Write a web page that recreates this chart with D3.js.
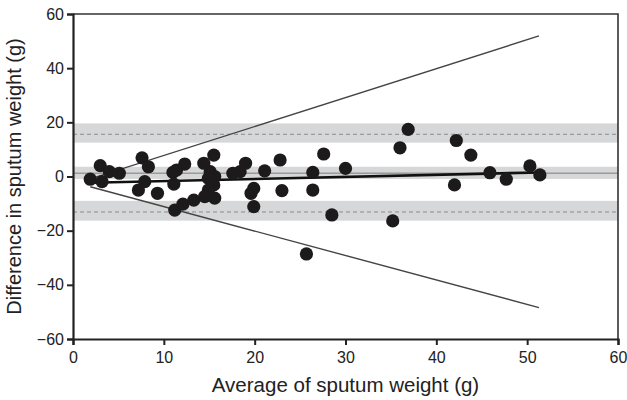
<!DOCTYPE html>
<meta charset="utf-8">
<style>
  body { margin: 0; background: #fff; }
  text { font-family: "Liberation Sans", Arial, sans-serif; fill: #222; }
</style>

<!-- Load d3.js -->
<script src="https://d3js.org/d3.v7.min.js"></script>
<!-- Create a div where the graph will take place -->
<div id="my_dataviz"></div>

<script>

// data: average (x) and difference (y) of sputum weight
var avgWeight  = [1.9, 3.0, 3.2, 4.0, 5.1, 7.6, 8.3, 7.9, 7.2, 9.3,
                  11.0, 11.4, 12.3, 11.1, 11.2, 12.1, 13.3, 14.4, 15.5, 15.1,
                  15.6, 14.9, 15.5, 14.9, 15.6, 14.5, 17.6, 18.4, 19.0, 19.9,
                  19.6, 19.9, 21.1, 22.8, 23.0, 26.4, 27.6, 26.4, 30.0, 28.5,
                  25.7, 36.9, 36.0, 42.2, 42.0, 35.2, 43.8, 45.9, 47.7, 50.3, 51.4];
var diffWeight = [-1.0, 4.0, -1.9, 1.8, 1.2, 6.9, 3.6, -1.9, -5.0, -6.2,
                  1.5, 2.4, 4.6, -2.8, -12.4, -10.2, -8.7, 4.9, 7.9, 1.8,
                  0.0, -0.7, -3.1, -5.0, -8.0, -7.4, 1.2, 1.8, 4.9, -4.4,
                  -6.2, -11.1, 2.1, 6.1, -5.2, 1.5, 8.3, -5.0, 3.0, -14.2,
                  -28.6, 17.4, 10.6, 13.3, -3.1, -16.4, 7.9, 1.4, -1.0, 3.9, 0.6];

// mean difference and limits of agreement, with their confidence bands
var meanLine  = 1.2,  meanBand  = [-0.9, 3.6];
var upperLine = 15.6, upperBand = [12.5, 19.6];
var lowerLine = -13.1, lowerBand = [-16.3, -9.0];

// regression line and the two diverging lines (end points)
var regLine   = [[1.9, -2.3], [51.3, 1.5]];
var upperEdge = [[1.9, -0.9], [51.3, 51.9]];
var lowerEdge = [[1.9, -3.8], [51.3, -48.4]];

var xTicks = [0, 10, 20, 30, 40, 50, 60];
var yTicks = [-60, -40, -20, 0, 20, 40, 60];

// set the dimensions and margins of the graph
var margin = {top: 14, right: 9, bottom: 61, left: 73},
    width = 627 - margin.left - margin.right,
    height = 400 - margin.top - margin.bottom;

var svg = d3.select("#my_dataviz")
  .append("svg")
    .attr("width", width + margin.left + margin.right)
    .attr("height", height + margin.top + margin.bottom)
  .append("g")
    .attr("transform", "translate(" + margin.left + "," + margin.top + ")");

var x = d3.scaleLinear().domain([0, 60]).range([0, width]);
var y = d3.scaleLinear().domain([-60, 60]).range([height, 0]);

// grey confidence bands
[meanBand, upperBand, lowerBand].forEach(function(b) {
  svg.append("rect")
    .attr("x", 0)
    .attr("width", width)
    .attr("y", y(b[1]))
    .attr("height", y(b[0]) - y(b[1]))
    .style("fill", "#d6d7d8");
});

// mean line (solid) and limits (dashed)
svg.append("line")
  .attr("x1", 0).attr("x2", width)
  .attr("y1", y(meanLine)).attr("y2", y(meanLine))
  .style("stroke", "#9a9a9a").style("stroke-width", 1.3);

[upperLine, lowerLine].forEach(function(v) {
  svg.append("line")
    .attr("x1", 0).attr("x2", width)
    .attr("y1", y(v)).attr("y2", y(v))
    .style("stroke", "#8a8a8a").style("stroke-width", 1)
    .style("stroke-dasharray", "4,3");
});

var line = d3.line()
  .x(function(d) { return x(d[0]); })
  .y(function(d) { return y(d[1]); });

// diverging lines
[upperEdge, lowerEdge].forEach(function(l) {
  svg.append("path")
    .attr("d", line(l))
    .style("fill", "none")
    .style("stroke", "#444")
    .style("stroke-width", 1.4);
});

// regression line
svg.append("path")
  .attr("d", line(regLine))
  .style("fill", "none")
  .style("stroke", "#111")
  .style("stroke-width", 2.6);

// points
svg.selectAll("circle")
  .data(d3.range(avgWeight.length))
  .enter()
  .append("circle")
    .attr("cx", function(i) { return x(avgWeight[i]); })
    .attr("cy", function(i) { return y(diffWeight[i]); })
    .attr("r", 6.6)
    .style("fill", "#1c1a1b");

// frame (top and right)
svg.append("path")
  .attr("d", "M0,0H" + width + "V" + height)
  .style("fill", "none")
  .style("stroke", "#333")
  .style("stroke-width", 1.6);

// axes
var xAxis = svg.append("g")
  .attr("transform", "translate(0," + height + ")")
  .call(d3.axisBottom(x).tickValues(xTicks).tickSize(6).tickPadding(7));

var yAxis = svg.append("g")
  .call(d3.axisLeft(y).tickValues(yTicks).tickSize(6).tickPadding(3)
    .tickFormat(function(d) { return d < 0 ? "\u2212" + Math.abs(d) : d; }));

[xAxis, yAxis].forEach(function(a) {
  a.select(".domain").style("stroke", "#222").style("stroke-width", 2.2);
  a.selectAll(".tick line").style("stroke", "#222").style("stroke-width", 2);
  a.selectAll(".tick text").style("font-size", "16px").style("fill", "#222")
    .style("font-family", "'Liberation Sans', Arial, sans-serif");
});

// axis titles
svg.append("text")
  .attr("x", width / 2)
  .attr("y", height + 53)
  .attr("text-anchor", "middle")
  .style("font-size", "20.5px")
  .text("Average of sputum weight (g)");

svg.append("text")
  .attr("transform", "rotate(-90)")
  .attr("x", -height / 2)
  .attr("y", -52)
  .attr("text-anchor", "middle")
  .style("font-size", "20px")
  .text("Difference in sputum weight (g)");

</script>
